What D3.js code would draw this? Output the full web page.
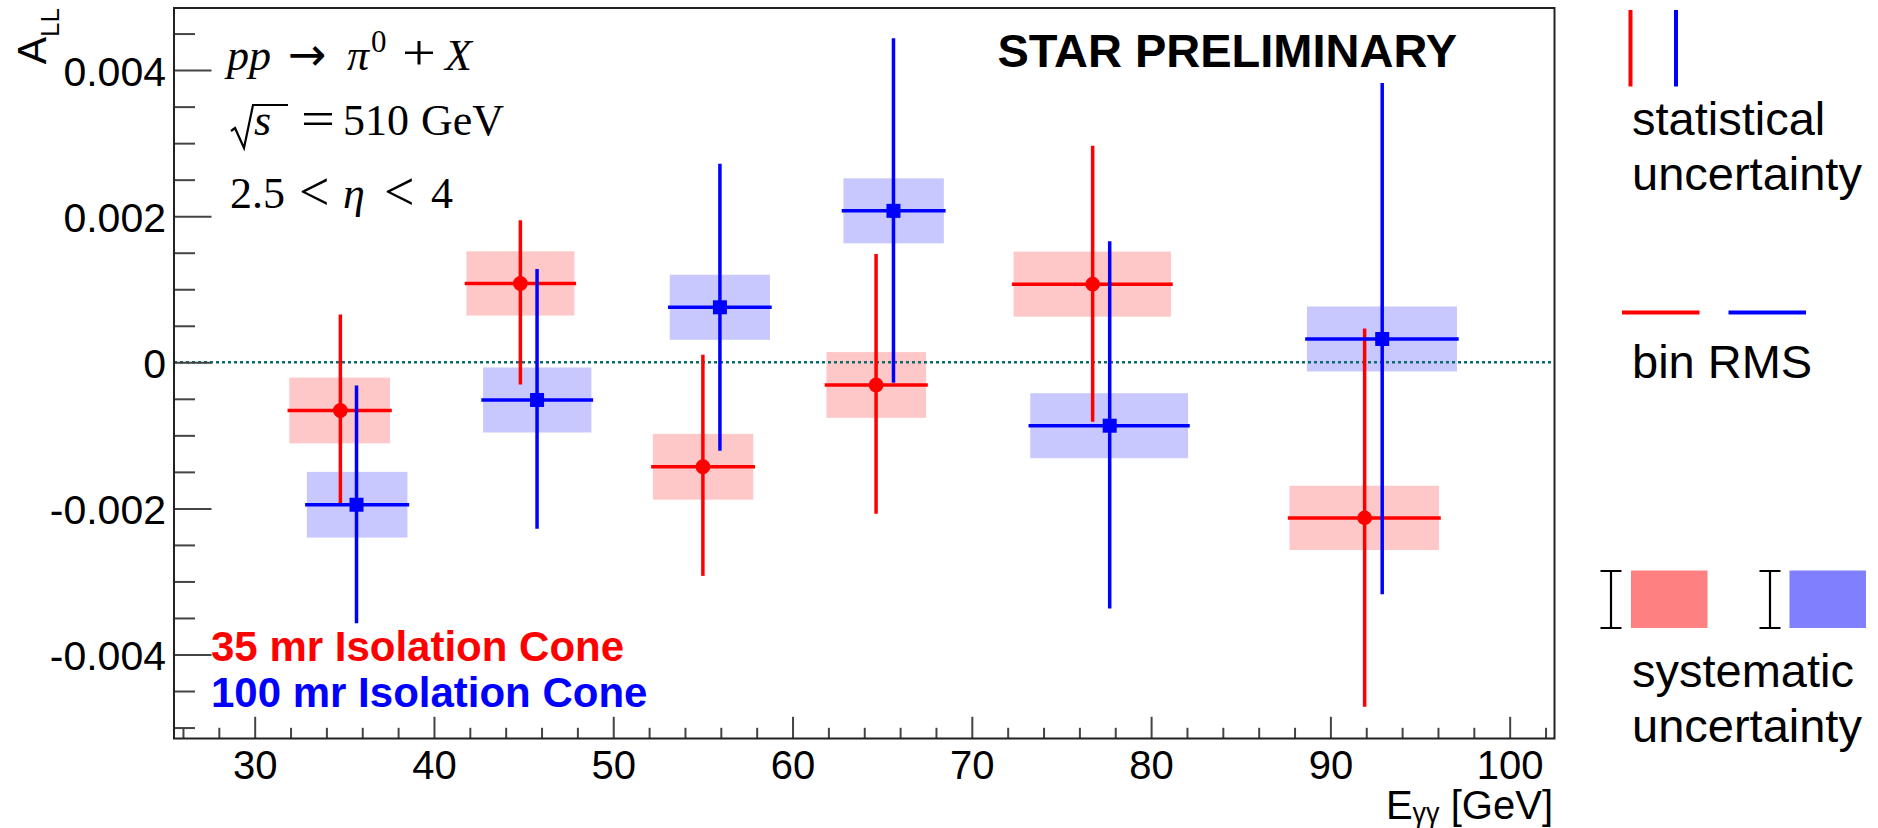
<!DOCTYPE html>
<html>
<head>
<meta charset="utf-8">
<script src="https://cdn.jsdelivr.net/npm/d3@7"></script>
<style>
  body { margin: 0; background: #fff; }
  svg { display: block; }
</style>
</head>
<body>
<svg id="chart" width="1878" height="828"></svg>
<script>
// ---- A_LL vs E_gg, 35 mr isolation cone (red) ----
const redE      = [34.78, 44.82, 55.00, 64.66, 76.74, 91.91];
const redALL    = [-0.00066, 0.00108, -0.00143, -0.00031, 0.00107, -0.00213];
const redStatUp = [0.00129, 0.00084, 0.00151, 0.00177, 0.00187, 0.00257];
const redStatDn = [0.00125, 0.00136, 0.00147, 0.00174, 0.00186, 0.00256];
const redRmsLo  = [2.85, 3.01, 2.79, 2.77, 4.41, 4.19];
const redRmsHi  = [2.77, 3.01, 2.81, 2.79, 4.37, 4.15];
const redSys    = [0.00045, 0.00044, 0.00045, 0.00045, 0.000445, 0.00044];

// ---- 100 mr isolation cone (blue) ----
const blueE      = [35.68, 45.75, 55.95, 65.63, 77.69, 92.89];
const blueALL    = [-0.00195, -0.000516, 0.000753, 0.002073, -0.000868, 0.000319];
const blueStatUp = [0.00161, 0.00177, 0.00194, 0.00234, 0.00250, 0.00348];
const blueStatDn = [0.00160, 0.00174, 0.00194, 0.00233, 0.00248, 0.00347];
const blueRmsLo  = [2.77, 3.01, 2.80, 2.79, 4.43, 4.20];
const blueRmsHi  = [2.84, 3.03, 2.79, 2.81, 4.37, 4.17];
const blueSys    = [0.00045, 0.000445, 0.000445, 0.000445, 0.000445, 0.000445];

// axis ticks
const xMajor = [30, 40, 50, 60, 70, 80, 90, 100];
const yMajor = [-0.004, -0.002, 0, 0.002, 0.004];

const svg = d3.select("#chart");
const SANS = "'Liberation Sans', Arial, Helvetica, sans-serif";
const SERIF = "'Liberation Serif', 'Times New Roman', serif";
const OPS = "'DejaVu Sans', sans-serif";

const frame = { left: 174, right: 1554.5, top: 8, bottom: 738.5 };
const x = d3.scaleLinear().domain([25.5, 102.5]).range([frame.left, frame.right]);
const y = d3.scaleLinear().domain([-0.00515, 0.00485]).range([frame.bottom, frame.top]);

const xMinor = d3.range(26, 103, 2).filter(v => !xMajor.includes(v));
const yMinor = d3.range(-50, 49, 5).map(v => v / 10000).filter(v => !yMajor.some(m => Math.abs(m - v) < 1e-9));

const series = [
  { name: "red", E: redE, A: redALL, up: redStatUp, dn: redStatDn, lo: redRmsLo, hi: redRmsHi, sys: redSys,
    line: "#ff0000", box: "#ffc8c8", marker: "circle" },
  { name: "blue", E: blueE, A: blueALL, up: blueStatUp, dn: blueStatDn, lo: blueRmsLo, hi: blueRmsHi, sys: blueSys,
    line: "#0000ff", box: "#c8c8ff", marker: "square" }
];

// systematic boxes
const boxes = svg.append("g");
series.forEach(s => {
  boxes.selectAll(null).data(s.E.map((e, i) => i)).enter().append("rect")
    .attr("x", i => x(s.E[i] - s.lo[i]))
    .attr("width", i => x(s.E[i] + s.hi[i]) - x(s.E[i] - s.lo[i]))
    .attr("y", i => y(s.A[i] + s.sys[i]))
    .attr("height", i => y(s.A[i] - s.sys[i]) - y(s.A[i] + s.sys[i]))
    .attr("fill", s.box);
});

// zero line
svg.append("line")
  .attr("x1", frame.left).attr("x2", frame.right)
  .attr("y1", y(0)).attr("y2", y(0))
  .attr("stroke", "#0a6b6b").attr("stroke-width", 2.4)
  .attr("stroke-dasharray", "3,3");

// axes (ticks drawn inward)
const yAxis = d3.axisLeft(y).tickValues(yMajor).tickSizeInner(-37.5).tickSizeOuter(0).tickPadding(8)
  .tickFormat(d => Math.abs(d) < 1e-12 ? "0" : d.toFixed(3));
const gy = svg.append("g").attr("transform", `translate(${frame.left},0)`).call(yAxis);
gy.select(".domain").remove();
gy.selectAll("line").attr("stroke", "#444").attr("stroke-width", 2);
gy.selectAll("text").attr("font-family", SANS).attr("font-size", 41).attr("fill", "#000").attr("dy", "0.37em");

const gyMinor = svg.append("g").attr("transform", `translate(${frame.left},0)`)
  .call(d3.axisLeft(y).tickValues(yMinor).tickSizeInner(-21).tickSizeOuter(0).tickFormat(""));
gyMinor.select(".domain").remove();
gyMinor.selectAll("line").attr("stroke", "#444").attr("stroke-width", 2);

const xAxis = d3.axisBottom(x).tickValues(xMajor).tickSizeInner(-21.7).tickSizeOuter(0).tickPadding(12)
  .tickFormat(d3.format("d"));
const gx = svg.append("g").attr("transform", `translate(0,${frame.bottom})`).call(xAxis);
gx.select(".domain").remove();
gx.selectAll("line").attr("stroke", "#444").attr("stroke-width", 2);
gx.selectAll("text").attr("font-family", SANS).attr("font-size", 40).attr("fill", "#000");

const gxMinor = svg.append("g").attr("transform", `translate(0,${frame.bottom})`)
  .call(d3.axisBottom(x).tickValues(xMinor).tickSizeInner(-10.7).tickSizeOuter(0).tickFormat(""));
gxMinor.select(".domain").remove();
gxMinor.selectAll("line").attr("stroke", "#444").attr("stroke-width", 2);

// frame
svg.append("rect")
  .attr("x", frame.left).attr("y", frame.top)
  .attr("width", frame.right - frame.left).attr("height", frame.bottom - frame.top)
  .attr("fill", "none").attr("stroke", "#222").attr("stroke-width", 2);

// error bars and markers
series.forEach(s => {
  const g = svg.append("g");
  const idx = s.E.map((e, i) => i);
  g.selectAll(null).data(idx).enter().append("line")
    .attr("x1", i => x(s.E[i] - s.lo[i])).attr("x2", i => x(s.E[i] + s.hi[i]))
    .attr("y1", i => y(s.A[i])).attr("y2", i => y(s.A[i]))
    .attr("stroke", s.line).attr("stroke-width", 3.5).attr("stroke-linecap", "square");
  g.selectAll(null).data(idx).enter().append("line")
    .attr("x1", i => x(s.E[i])).attr("x2", i => x(s.E[i]))
    .attr("y1", i => y(s.A[i] + s.up[i])).attr("y2", i => y(s.A[i] - s.dn[i]))
    .attr("stroke", s.line).attr("stroke-width", 3.5).attr("stroke-linecap", "square");
  if (s.marker === "circle") {
    g.selectAll(null).data(idx).enter().append("circle")
      .attr("cx", i => x(s.E[i])).attr("cy", i => y(s.A[i])).attr("r", 7.4)
      .attr("fill", s.line);
  } else {
    g.selectAll(null).data(idx).enter().append("rect")
      .attr("x", i => x(s.E[i]) - 7).attr("y", i => y(s.A[i]) - 7)
      .attr("width", 14).attr("height", 14)
      .attr("fill", s.line);
  }
});

// axis titles
const xt = svg.append("text").attr("x", 1553).attr("y", 819)
  .attr("text-anchor", "end").attr("font-family", SANS).attr("font-size", 40).attr("fill", "#000");
xt.append("tspan").text("E");
xt.append("tspan").attr("font-size", 27).attr("dy", 3).text("γγ");
xt.append("tspan").attr("dy", -3).text(" [GeV]");

const yt = svg.append("text").attr("transform", "translate(46,8) rotate(-90)")
  .attr("text-anchor", "end").attr("font-family", SANS).attr("font-size", 41).attr("fill", "#000");
yt.append("tspan").text("A");
yt.append("tspan").attr("font-size", 26).attr("dy", 13).text("LL");

// physics labels (math style)
function mathLine(x0, base, pieces) {
  const g = svg.append("g");
  pieces.forEach(p => {
    const t = g.append("text")
      .attr("x", x0 + p.dx).attr("y", base + (p.dy || 0))
      .attr("font-family", p.op ? OPS : SERIF).attr("font-size", p.size || 44)
      .attr("font-style", p.it ? "italic" : "normal")
      .attr("fill", "#000").text(p.t);
    if (p.len) t.attr("textLength", p.len).attr("lengthAdjust", "spacingAndGlyphs");
  });
  return g;
}
mathLine(227, 70, [
  { t: "pp", it: true, dx: 0 },
  { t: "→", dx: 61, op: true, size: 46 },
  { t: "π", it: true, dx: 120 },
  { t: "0", dx: 144, dy: -18, size: 31 },
  { t: "+", dx: 175, size: 50, len: 34 },
  { t: "X", it: true, dx: 218 }
]);
const l2 = mathLine(232, 135, [
  { t: "s", it: true, dx: 22 },
  { t: "=", dx: 69, size: 48, len: 34 },
  { t: "510", dx: 111 },
  { t: "GeV", dx: 189 }
]);
l2.append("path")
  .attr("d", "M231,131 L235,128 L244,148 L253,105 L288,105")
  .attr("fill", "none").attr("stroke", "#000").attr("stroke-width", 2.2)
  .attr("stroke-linejoin", "miter");
mathLine(230, 208, [
  { t: "2.5", dx: 0 },
  { t: "<", dx: 69, size: 54, dy: 2 },
  { t: "η", it: true, dx: 113 },
  { t: "<", dx: 154, size: 54, dy: 2 },
  { t: "4", dx: 201 }
]);

// headline and series labels
svg.append("text").attr("x", 1457).attr("y", 66.5).attr("text-anchor", "end")
  .attr("font-family", SANS).attr("font-weight", "bold").attr("font-size", 47).attr("fill", "#000")
  .text("STAR PRELIMINARY");
svg.append("text").attr("x", 211).attr("y", 661)
  .attr("font-family", SANS).attr("font-weight", "bold").attr("font-size", 42).attr("fill", "#ff0000")
  .text("35 mr Isolation Cone");
svg.append("text").attr("x", 211).attr("y", 707)
  .attr("font-family", SANS).attr("font-weight", "bold").attr("font-size", 42).attr("fill", "#0000ff")
  .text("100 mr Isolation Cone");

// key on the right
const key = svg.append("g");
key.append("line").attr("x1", 1630.5).attr("x2", 1630.5).attr("y1", 10).attr("y2", 86.5)
  .attr("stroke", "#ff0000").attr("stroke-width", 4);
key.append("line").attr("x1", 1676).attr("x2", 1676).attr("y1", 10).attr("y2", 86.5)
  .attr("stroke", "#0000ff").attr("stroke-width", 4);
key.append("line").attr("x1", 1622).attr("x2", 1699.5).attr("y1", 312.5).attr("y2", 312.5)
  .attr("stroke", "#ff0000").attr("stroke-width", 4);
key.append("line").attr("x1", 1728.5).attr("x2", 1806).attr("y1", 312.5).attr("y2", 312.5)
  .attr("stroke", "#0000ff").attr("stroke-width", 4);

[[1611, "#ff8080", 1631], [1770, "#8080ff", 1789.5]].forEach(([cx, fill, rx]) => {
  key.append("path")
    .attr("d", `M${cx - 10.5},571 H${cx + 10.5} M${cx},571 V628 M${cx - 10.5},628 H${cx + 10.5}`)
    .attr("stroke", "#000").attr("stroke-width", 2.2).attr("fill", "none");
  key.append("rect").attr("x", rx).attr("y", 570.5).attr("width", 76.5).attr("height", 57.5)
    .attr("fill", fill);
});

const keyText = [
  ["statistical", 135], ["uncertainty", 190], ["bin RMS", 378],
  ["systematic", 687], ["uncertainty", 742]
];
keyText.forEach(([t, by]) => {
  key.append("text").attr("x", 1632).attr("y", by)
    .attr("font-family", SANS).attr("font-size", 47).attr("fill", "#000").text(t);
});
</script>
</body>
</html>
